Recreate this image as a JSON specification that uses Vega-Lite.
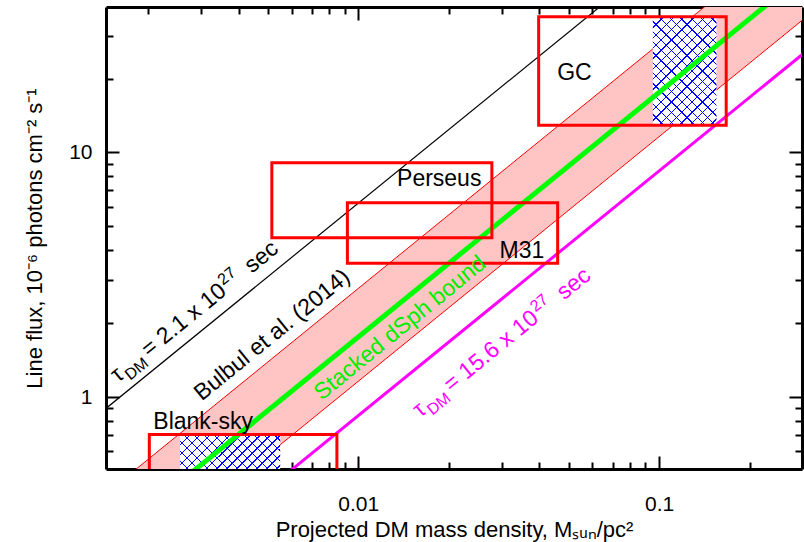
{
 "$schema": "https://vega.github.io/schema/vega-lite/v6.json",
 "width": 696, "height": 462,
 "autosize": {"type": "none"},
 "padding": {"left": 106, "top": 7, "right": 2, "bottom": 73},
 "background": "white",
 "config": {
  "view": {"stroke": null},
  "font": "Liberation Sans",
  "axis": {"grid": false, "domainColor": "black", "domainWidth": 3, "tickColor": "black", "tickWidth": 2, "zindex": 1,
   "labelFont": "Liberation Sans", "labelFontSize": 21, "labelColor": "black", "labelOverlap": false, "labelFlush": false,
   "titleFont": "Liberation Sans", "titleFontSize": 22, "titleFontWeight": "normal", "titleColor": "black"}
 },
 "datasets": {
  "band": [{"x": 0.0014, "lo": 0.1624, "hi": 0.3892}, {"x": 0.3, "lo": 34.8, "hi": 83.4}],
  "lines": [
   {"s": "dSph", "x": 0.0025, "y": 0.44}, {"s": "dSph", "x": 0.25, "y": 44},
   {"s": "tau21", "x": 0.0014, "y": 0.868}, {"s": "tau21", "x": 0.07, "y": 43.4},
   {"s": "tau156", "x": 0.005, "y": 0.42}, {"s": "tau156", "x": 0.5, "y": 42}
  ],
  "boxes": [
   {"name": "Blank-sky", "x1": 0.00202, "x2": 0.00849, "y1": 0.45, "y2": 0.7036},
   {"name": "Perseus", "x1": 0.00516, "x2": 0.0278, "y1": 4.48, "y2": 9.07},
   {"name": "M31", "x1": 0.0092, "x2": 0.046, "y1": 3.52, "y2": 6.23},
   {"name": "GC", "x1": 0.03977, "x2": 0.1671, "y1": 12.91, "y2": 35.86}
  ],
  "hatch": [
   {"name": "Blank-sky", "x1": 0.002556, "x2": 0.0055, "y1": 0.45, "y2": 0.7036},
   {"name": "GC", "x1": 0.0953, "x2": 0.1551, "y1": 12.91, "y2": 35.86}
  ],
  "labels": [
   {"t": "Blank-sky", "x": 0.00305, "y": 0.794},
   {"t": "Perseus", "x": 0.01858, "y": 7.785},
   {"t": "M31", "x": 0.035, "y": 3.97},
   {"t": "GC", "x": 0.05229, "y": 21.05}
  ],
  "tau": [
   {"s": "black", "x": 0.001589, "y": 1.141, "num": "= 2.1 x 10"},
   {"s": "magenta", "x": 0.01606, "y": 0.8204, "num": "= 15.6 x 10"}
  ]
 },
 "resolve": {"axis": {"x": "independent", "y": "independent"}},
 "layer": [
  {"data": {"name": "band"}, "mark": {"type": "area", "color": "#ffc4c4", "clip": true},
   "encoding": {
    "x": {"field": "x", "type": "quantitative", "scale": {"type": "log", "domain": [0.00145, 0.2985], "nice": false},
     "axis": {"orient": "bottom", "values": [0.01, 0.1], "labelExpr": "datum.value == 0.01 ? '0.01' : '0.1'", "domain": false, "offset": -13,
      "tickSize": 13, "labelPadding": 24, "title": "Projected DM mass density, Mₛᵤₙ/pc²", "titlePadding": 5}},
    "y": {"field": "lo", "type": "quantitative", "scale": {"type": "log", "domain": [0.508, 39.3], "nice": false},
     "axis": {"orient": "left", "values": [1, 10], "labelExpr": "datum.value == 1 ? '1' : '10'", "domain": false, "offset": -13,
      "tickSize": 13, "labelPadding": 14, "title": "Line flux, 10⁻⁶ photons cm⁻² s⁻¹", "titlePadding": 22}},
    "y2": {"field": "hi"}
   }},
  {"data": {"name": "band"}, "mark": {"type": "line", "color": "#ff0000", "strokeWidth": 1, "clip": true},
   "encoding": {
    "x": {"field": "x", "type": "quantitative",
     "axis": {"orient": "bottom", "values": [0.002,0.003,0.004,0.005,0.006,0.007,0.008,0.009,0.02,0.03,0.04,0.05,0.06,0.07,0.08,0.09,0.2],
      "labels": false, "title": null, "domain": false, "offset": -7, "tickSize": 7}},
    "y": {"field": "hi", "type": "quantitative",
     "axis": {"orient": "left", "values": [0.6,0.7,0.8,0.9,2,3,4,5,6,7,8,9,20,30],
      "labels": false, "title": null, "domain": false, "offset": -7, "tickSize": 7}}
   }},
  {"data": {"name": "band"}, "mark": {"type": "line", "color": "#ff0000", "strokeWidth": 1, "clip": true},
   "encoding": {
    "x": {"field": "x", "type": "quantitative",
     "axis": {"orient": "top", "values": [0.01, 0.1], "labels": false, "title": null, "domain": false, "offset": -13, "tickSize": 13}},
    "y": {"field": "lo", "type": "quantitative",
     "axis": {"orient": "right", "values": [1, 10], "labels": false, "title": null, "domain": false, "offset": -13, "tickSize": 13}}
   }},
  {"data": {"name": "hatch"}, "mark": {"type": "rect", "fill": "white", "clip": true},
   "encoding": {
    "x": {"field": "x1", "type": "quantitative",
     "axis": {"orient": "top", "values": [0.002,0.003,0.004,0.005,0.006,0.007,0.008,0.009,0.02,0.03,0.04,0.05,0.06,0.07,0.08,0.09,0.2],
      "labels": false, "title": null, "domain": false, "offset": -7, "tickSize": 7}},
    "x2": {"field": "x2"},
    "y": {"field": "y1", "type": "quantitative",
     "axis": {"orient": "right", "values": [0.6,0.7,0.8,0.9,2,3,4,5,6,7,8,9,20,30],
      "labels": false, "title": null, "domain": false, "offset": -7, "tickSize": 7}},
    "y2": {"field": "y2"}}},
  {"data": {"name": "hatch"}, "transform": [{"filter": "datum.name == 'GC'"}],
   "mark": {"type": "rect", "clip": true, "fill": {"gradient": "linear", "x1": 0, "y1": 0, "x2": 0.6915, "y2": 1.1807, "stops": [
    {"offset":0,"color":"#0000ff"},{"offset":0.008,"color":"#0000ff"},{"offset":0.008,"color":"rgba(0,0,255,0)"},{"offset":0.06,"color":"rgba(0,0,255,0)"},
    {"offset":0.06,"color":"#0000ff"},{"offset":0.068,"color":"#0000ff"},{"offset":0.068,"color":"rgba(0,0,255,0)"},{"offset":0.12,"color":"rgba(0,0,255,0)"},
    {"offset":0.12,"color":"#0000ff"},{"offset":0.128,"color":"#0000ff"},{"offset":0.128,"color":"rgba(0,0,255,0)"},{"offset":0.18,"color":"rgba(0,0,255,0)"},
    {"offset":0.18,"color":"#0000ff"},{"offset":0.188,"color":"#0000ff"},{"offset":0.188,"color":"rgba(0,0,255,0)"},{"offset":0.24,"color":"rgba(0,0,255,0)"},
    {"offset":0.24,"color":"#0000ff"},{"offset":0.248,"color":"#0000ff"},{"offset":0.248,"color":"rgba(0,0,255,0)"},{"offset":0.3,"color":"rgba(0,0,255,0)"},
    {"offset":0.3,"color":"#0000ff"},{"offset":0.308,"color":"#0000ff"},{"offset":0.308,"color":"rgba(0,0,255,0)"},{"offset":0.36,"color":"rgba(0,0,255,0)"},
    {"offset":0.36,"color":"#0000ff"},{"offset":0.368,"color":"#0000ff"},{"offset":0.368,"color":"rgba(0,0,255,0)"},{"offset":0.42,"color":"rgba(0,0,255,0)"},
    {"offset":0.42,"color":"#0000ff"},{"offset":0.428,"color":"#0000ff"},{"offset":0.428,"color":"rgba(0,0,255,0)"},{"offset":0.48,"color":"rgba(0,0,255,0)"},
    {"offset":0.48,"color":"#0000ff"},{"offset":0.488,"color":"#0000ff"},{"offset":0.488,"color":"rgba(0,0,255,0)"},{"offset":0.54,"color":"rgba(0,0,255,0)"},
    {"offset":0.54,"color":"#0000ff"},{"offset":0.548,"color":"#0000ff"},{"offset":0.548,"color":"rgba(0,0,255,0)"},{"offset":0.6,"color":"rgba(0,0,255,0)"},
    {"offset":0.6,"color":"#0000ff"},{"offset":0.608,"color":"#0000ff"},{"offset":0.608,"color":"rgba(0,0,255,0)"},{"offset":0.66,"color":"rgba(0,0,255,0)"},
    {"offset":0.66,"color":"#0000ff"},{"offset":0.668,"color":"#0000ff"},{"offset":0.668,"color":"rgba(0,0,255,0)"},{"offset":0.72,"color":"rgba(0,0,255,0)"},
    {"offset":0.72,"color":"#0000ff"},{"offset":0.728,"color":"#0000ff"},{"offset":0.728,"color":"rgba(0,0,255,0)"},{"offset":0.78,"color":"rgba(0,0,255,0)"},
    {"offset":0.78,"color":"#0000ff"},{"offset":0.788,"color":"#0000ff"},{"offset":0.788,"color":"rgba(0,0,255,0)"},{"offset":0.84,"color":"rgba(0,0,255,0)"},
    {"offset":0.84,"color":"#0000ff"},{"offset":0.848,"color":"#0000ff"},{"offset":0.848,"color":"rgba(0,0,255,0)"},{"offset":0.9,"color":"rgba(0,0,255,0)"},
    {"offset":0.9,"color":"#0000ff"},{"offset":0.908,"color":"#0000ff"},{"offset":0.908,"color":"rgba(0,0,255,0)"},{"offset":0.96,"color":"rgba(0,0,255,0)"},
    {"offset":0.96,"color":"#0000ff"},{"offset":0.968,"color":"#0000ff"},{"offset":0.968,"color":"rgba(0,0,255,0)"},{"offset":1,"color":"rgba(0,0,255,0)"}]}},
   "encoding": {
    "x": {"field": "x1", "type": "quantitative", "axis": {"orient": "bottom", "ticks": false, "labels": false, "title": null, "domain": true}},
    "x2": {"field": "x2"},
    "y": {"field": "y1", "type": "quantitative", "axis": {"orient": "left", "ticks": false, "labels": false, "title": null, "domain": true}},
    "y2": {"field": "y2"}}},
  {"data": {"name": "hatch"}, "transform": [{"filter": "datum.name == 'GC'"}],
   "mark": {"type": "rect", "clip": true, "fill": {"gradient": "linear", "x1": 0, "y1": 1, "x2": 0.6915, "y2": -0.1807, "stops": [
    {"offset":0,"color":"#0000ff"},{"offset":0.008,"color":"#0000ff"},{"offset":0.008,"color":"rgba(0,0,255,0)"},{"offset":0.06,"color":"rgba(0,0,255,0)"},
    {"offset":0.06,"color":"#0000ff"},{"offset":0.068,"color":"#0000ff"},{"offset":0.068,"color":"rgba(0,0,255,0)"},{"offset":0.12,"color":"rgba(0,0,255,0)"},
    {"offset":0.12,"color":"#0000ff"},{"offset":0.128,"color":"#0000ff"},{"offset":0.128,"color":"rgba(0,0,255,0)"},{"offset":0.18,"color":"rgba(0,0,255,0)"},
    {"offset":0.18,"color":"#0000ff"},{"offset":0.188,"color":"#0000ff"},{"offset":0.188,"color":"rgba(0,0,255,0)"},{"offset":0.24,"color":"rgba(0,0,255,0)"},
    {"offset":0.24,"color":"#0000ff"},{"offset":0.248,"color":"#0000ff"},{"offset":0.248,"color":"rgba(0,0,255,0)"},{"offset":0.3,"color":"rgba(0,0,255,0)"},
    {"offset":0.3,"color":"#0000ff"},{"offset":0.308,"color":"#0000ff"},{"offset":0.308,"color":"rgba(0,0,255,0)"},{"offset":0.36,"color":"rgba(0,0,255,0)"},
    {"offset":0.36,"color":"#0000ff"},{"offset":0.368,"color":"#0000ff"},{"offset":0.368,"color":"rgba(0,0,255,0)"},{"offset":0.42,"color":"rgba(0,0,255,0)"},
    {"offset":0.42,"color":"#0000ff"},{"offset":0.428,"color":"#0000ff"},{"offset":0.428,"color":"rgba(0,0,255,0)"},{"offset":0.48,"color":"rgba(0,0,255,0)"},
    {"offset":0.48,"color":"#0000ff"},{"offset":0.488,"color":"#0000ff"},{"offset":0.488,"color":"rgba(0,0,255,0)"},{"offset":0.54,"color":"rgba(0,0,255,0)"},
    {"offset":0.54,"color":"#0000ff"},{"offset":0.548,"color":"#0000ff"},{"offset":0.548,"color":"rgba(0,0,255,0)"},{"offset":0.6,"color":"rgba(0,0,255,0)"},
    {"offset":0.6,"color":"#0000ff"},{"offset":0.608,"color":"#0000ff"},{"offset":0.608,"color":"rgba(0,0,255,0)"},{"offset":0.66,"color":"rgba(0,0,255,0)"},
    {"offset":0.66,"color":"#0000ff"},{"offset":0.668,"color":"#0000ff"},{"offset":0.668,"color":"rgba(0,0,255,0)"},{"offset":0.72,"color":"rgba(0,0,255,0)"},
    {"offset":0.72,"color":"#0000ff"},{"offset":0.728,"color":"#0000ff"},{"offset":0.728,"color":"rgba(0,0,255,0)"},{"offset":0.78,"color":"rgba(0,0,255,0)"},
    {"offset":0.78,"color":"#0000ff"},{"offset":0.788,"color":"#0000ff"},{"offset":0.788,"color":"rgba(0,0,255,0)"},{"offset":0.84,"color":"rgba(0,0,255,0)"},
    {"offset":0.84,"color":"#0000ff"},{"offset":0.848,"color":"#0000ff"},{"offset":0.848,"color":"rgba(0,0,255,0)"},{"offset":0.9,"color":"rgba(0,0,255,0)"},
    {"offset":0.9,"color":"#0000ff"},{"offset":0.908,"color":"#0000ff"},{"offset":0.908,"color":"rgba(0,0,255,0)"},{"offset":0.96,"color":"rgba(0,0,255,0)"},
    {"offset":0.96,"color":"#0000ff"},{"offset":0.968,"color":"#0000ff"},{"offset":0.968,"color":"rgba(0,0,255,0)"},{"offset":1,"color":"rgba(0,0,255,0)"}]}},
   "encoding": {
    "x": {"field": "x1", "type": "quantitative", "axis": {"orient": "top", "ticks": false, "labels": false, "title": null, "domain": true}},
    "x2": {"field": "x2"},
    "y": {"field": "y1", "type": "quantitative", "axis": {"orient": "right", "ticks": false, "labels": false, "title": null, "domain": true}},
    "y2": {"field": "y2"}}},
  {"data": {"name": "hatch"}, "transform": [{"filter": "datum.name == 'Blank-sky'"}],
   "mark": {"type": "rect", "clip": true, "fill": {"gradient": "linear", "x1": 0, "y1": 0, "x2": 1.2034, "y2": 0.5716, "stops": [
    {"offset":0,"color":"#0000ff"},{"offset":0.009,"color":"#0000ff"},{"offset":0.009,"color":"rgba(0,0,255,0)"},{"offset":0.068,"color":"rgba(0,0,255,0)"},
    {"offset":0.068,"color":"#0000ff"},{"offset":0.077,"color":"#0000ff"},{"offset":0.077,"color":"rgba(0,0,255,0)"},{"offset":0.136,"color":"rgba(0,0,255,0)"},
    {"offset":0.136,"color":"#0000ff"},{"offset":0.145,"color":"#0000ff"},{"offset":0.145,"color":"rgba(0,0,255,0)"},{"offset":0.204,"color":"rgba(0,0,255,0)"},
    {"offset":0.204,"color":"#0000ff"},{"offset":0.213,"color":"#0000ff"},{"offset":0.213,"color":"rgba(0,0,255,0)"},{"offset":0.272,"color":"rgba(0,0,255,0)"},
    {"offset":0.272,"color":"#0000ff"},{"offset":0.281,"color":"#0000ff"},{"offset":0.281,"color":"rgba(0,0,255,0)"},{"offset":0.34,"color":"rgba(0,0,255,0)"},
    {"offset":0.34,"color":"#0000ff"},{"offset":0.349,"color":"#0000ff"},{"offset":0.349,"color":"rgba(0,0,255,0)"},{"offset":0.408,"color":"rgba(0,0,255,0)"},
    {"offset":0.408,"color":"#0000ff"},{"offset":0.417,"color":"#0000ff"},{"offset":0.417,"color":"rgba(0,0,255,0)"},{"offset":0.476,"color":"rgba(0,0,255,0)"},
    {"offset":0.476,"color":"#0000ff"},{"offset":0.485,"color":"#0000ff"},{"offset":0.485,"color":"rgba(0,0,255,0)"},{"offset":0.544,"color":"rgba(0,0,255,0)"},
    {"offset":0.544,"color":"#0000ff"},{"offset":0.553,"color":"#0000ff"},{"offset":0.553,"color":"rgba(0,0,255,0)"},{"offset":0.612,"color":"rgba(0,0,255,0)"},
    {"offset":0.612,"color":"#0000ff"},{"offset":0.621,"color":"#0000ff"},{"offset":0.621,"color":"rgba(0,0,255,0)"},{"offset":0.68,"color":"rgba(0,0,255,0)"},
    {"offset":0.68,"color":"#0000ff"},{"offset":0.689,"color":"#0000ff"},{"offset":0.689,"color":"rgba(0,0,255,0)"},{"offset":0.748,"color":"rgba(0,0,255,0)"},
    {"offset":0.748,"color":"#0000ff"},{"offset":0.757,"color":"#0000ff"},{"offset":0.757,"color":"rgba(0,0,255,0)"},{"offset":0.816,"color":"rgba(0,0,255,0)"},
    {"offset":0.816,"color":"#0000ff"},{"offset":0.825,"color":"#0000ff"},{"offset":0.825,"color":"rgba(0,0,255,0)"},{"offset":0.884,"color":"rgba(0,0,255,0)"},
    {"offset":0.884,"color":"#0000ff"},{"offset":0.893,"color":"#0000ff"},{"offset":0.893,"color":"rgba(0,0,255,0)"},{"offset":0.952,"color":"rgba(0,0,255,0)"},
    {"offset":0.952,"color":"#0000ff"},{"offset":0.961,"color":"#0000ff"},{"offset":0.961,"color":"rgba(0,0,255,0)"},{"offset":1,"color":"rgba(0,0,255,0)"}]}},
   "encoding": {"x": {"field": "x1", "type": "quantitative", "axis": null}, "x2": {"field": "x2"}, "y": {"field": "y1", "type": "quantitative", "axis": null}, "y2": {"field": "y2"}}},
  {"data": {"name": "hatch"}, "transform": [{"filter": "datum.name == 'Blank-sky'"}],
   "mark": {"type": "rect", "clip": true, "fill": {"gradient": "linear", "x1": 0, "y1": 1, "x2": 1.2034, "y2": 0.4284, "stops": [
    {"offset":0,"color":"#0000ff"},{"offset":0.009,"color":"#0000ff"},{"offset":0.009,"color":"rgba(0,0,255,0)"},{"offset":0.068,"color":"rgba(0,0,255,0)"},
    {"offset":0.068,"color":"#0000ff"},{"offset":0.077,"color":"#0000ff"},{"offset":0.077,"color":"rgba(0,0,255,0)"},{"offset":0.136,"color":"rgba(0,0,255,0)"},
    {"offset":0.136,"color":"#0000ff"},{"offset":0.145,"color":"#0000ff"},{"offset":0.145,"color":"rgba(0,0,255,0)"},{"offset":0.204,"color":"rgba(0,0,255,0)"},
    {"offset":0.204,"color":"#0000ff"},{"offset":0.213,"color":"#0000ff"},{"offset":0.213,"color":"rgba(0,0,255,0)"},{"offset":0.272,"color":"rgba(0,0,255,0)"},
    {"offset":0.272,"color":"#0000ff"},{"offset":0.281,"color":"#0000ff"},{"offset":0.281,"color":"rgba(0,0,255,0)"},{"offset":0.34,"color":"rgba(0,0,255,0)"},
    {"offset":0.34,"color":"#0000ff"},{"offset":0.349,"color":"#0000ff"},{"offset":0.349,"color":"rgba(0,0,255,0)"},{"offset":0.408,"color":"rgba(0,0,255,0)"},
    {"offset":0.408,"color":"#0000ff"},{"offset":0.417,"color":"#0000ff"},{"offset":0.417,"color":"rgba(0,0,255,0)"},{"offset":0.476,"color":"rgba(0,0,255,0)"},
    {"offset":0.476,"color":"#0000ff"},{"offset":0.485,"color":"#0000ff"},{"offset":0.485,"color":"rgba(0,0,255,0)"},{"offset":0.544,"color":"rgba(0,0,255,0)"},
    {"offset":0.544,"color":"#0000ff"},{"offset":0.553,"color":"#0000ff"},{"offset":0.553,"color":"rgba(0,0,255,0)"},{"offset":0.612,"color":"rgba(0,0,255,0)"},
    {"offset":0.612,"color":"#0000ff"},{"offset":0.621,"color":"#0000ff"},{"offset":0.621,"color":"rgba(0,0,255,0)"},{"offset":0.68,"color":"rgba(0,0,255,0)"},
    {"offset":0.68,"color":"#0000ff"},{"offset":0.689,"color":"#0000ff"},{"offset":0.689,"color":"rgba(0,0,255,0)"},{"offset":0.748,"color":"rgba(0,0,255,0)"},
    {"offset":0.748,"color":"#0000ff"},{"offset":0.757,"color":"#0000ff"},{"offset":0.757,"color":"rgba(0,0,255,0)"},{"offset":0.816,"color":"rgba(0,0,255,0)"},
    {"offset":0.816,"color":"#0000ff"},{"offset":0.825,"color":"#0000ff"},{"offset":0.825,"color":"rgba(0,0,255,0)"},{"offset":0.884,"color":"rgba(0,0,255,0)"},
    {"offset":0.884,"color":"#0000ff"},{"offset":0.893,"color":"#0000ff"},{"offset":0.893,"color":"rgba(0,0,255,0)"},{"offset":0.952,"color":"rgba(0,0,255,0)"},
    {"offset":0.952,"color":"#0000ff"},{"offset":0.961,"color":"#0000ff"},{"offset":0.961,"color":"rgba(0,0,255,0)"},{"offset":1,"color":"rgba(0,0,255,0)"}]}},
   "encoding": {"x": {"field": "x1", "type": "quantitative", "axis": null}, "x2": {"field": "x2"}, "y": {"field": "y1", "type": "quantitative", "axis": null}, "y2": {"field": "y2"}}},
  {"data": {"name": "lines"}, "transform": [{"filter": "datum.s == 'dSph'"}], "mark": {"type": "line", "color": "#00ff00", "strokeWidth": 5, "clip": true},
   "encoding": {"x": {"field": "x", "type": "quantitative", "axis": null}, "y": {"field": "y", "type": "quantitative", "axis": null}}},
  {"data": {"name": "lines"}, "transform": [{"filter": "datum.s == 'tau21'"}], "mark": {"type": "line", "color": "#000000", "strokeWidth": 1.2, "clip": true},
   "encoding": {"x": {"field": "x", "type": "quantitative", "axis": null}, "y": {"field": "y", "type": "quantitative", "axis": null}}},
  {"data": {"name": "lines"}, "transform": [{"filter": "datum.s == 'tau156'"}], "mark": {"type": "line", "color": "#ff00ff", "strokeWidth": 3, "clip": true},
   "encoding": {"x": {"field": "x", "type": "quantitative", "axis": null}, "y": {"field": "y", "type": "quantitative", "axis": null}}},
  {"data": {"name": "boxes"}, "mark": {"type": "rect", "filled": false, "color": "#ff0000", "strokeWidth": 3, "clip": true},
   "encoding": {"x": {"field": "x1", "type": "quantitative", "axis": null}, "x2": {"field": "x2"}, "y": {"field": "y1", "type": "quantitative", "axis": null}, "y2": {"field": "y2"}}},
  {"data": {"name": "labels"}, "mark": {"type": "text", "fontSize": 23, "color": "black", "align": "center", "baseline": "middle"},
   "encoding": {"x": {"field": "x", "type": "quantitative", "axis": null}, "y": {"field": "y", "type": "quantitative", "axis": null}, "text": {"field": "t"}}},
  {"data": {"values": [{"t": "Bulbul et al. (2014)", "x": 0.005171, "y": 1.792}]}, "mark": {"type": "text", "fontSize": 23, "color": "black", "align": "center", "baseline": "middle", "angle": 320.8},
   "encoding": {"x": {"field": "x", "type": "quantitative", "axis": null}, "y": {"field": "y", "type": "quantitative", "axis": null}, "text": {"field": "t"}}},
  {"data": {"values": [{"t": "Stacked dSph bound", "x": 0.01378, "y": 1.915}]}, "mark": {"type": "text", "fontSize": 23, "color": "#00ee00", "align": "center", "baseline": "middle", "angle": 320.8},
   "encoding": {"x": {"field": "x", "type": "quantitative", "axis": null}, "y": {"field": "y", "type": "quantitative", "axis": null}, "text": {"field": "t"}}},
  {"data": {"name": "tau"}, "mark": {"type": "text", "fontSize": 23, "align": "left", "baseline": "alphabetic", "angle": 320.8},
   "encoding": {"x": {"field": "x", "type": "quantitative", "axis": null}, "y": {"field": "y", "type": "quantitative", "axis": null}, "text": {"value": "τ"},
    "color": {"field": "s", "type": "nominal", "scale": {"domain": ["black", "magenta"], "range": ["#000000", "#ff00ff"]}, "legend": null}}},
  {"data": {"name": "tau"}, "mark": {"type": "text", "fontSize": 16, "align": "left", "baseline": "alphabetic", "angle": 320.8, "dx": 11, "dy": 6},
   "encoding": {"x": {"field": "x", "type": "quantitative", "axis": null}, "y": {"field": "y", "type": "quantitative", "axis": null}, "text": {"value": "DM"},
    "color": {"field": "s", "type": "nominal", "legend": null}}},
  {"data": {"name": "tau"}, "mark": {"type": "text", "fontSize": 23, "align": "left", "baseline": "alphabetic", "angle": 320.8, "dx": 40},
   "encoding": {"x": {"field": "x", "type": "quantitative", "axis": null}, "y": {"field": "y", "type": "quantitative", "axis": null}, "text": {"field": "num"},
    "color": {"field": "s", "type": "nominal", "legend": null}}},
  {"data": {"name": "tau"}, "transform": [{"filter": "datum.s == 'black'"}], "mark": {"type": "text", "fontSize": 16, "align": "left", "baseline": "alphabetic", "angle": 320.8, "dx": 143, "dy": -9, "color": "#000000"},
   "encoding": {"x": {"field": "x", "type": "quantitative", "axis": null}, "y": {"field": "y", "type": "quantitative", "axis": null}, "text": {"value": "27"}}},
  {"data": {"name": "tau"}, "transform": [{"filter": "datum.s == 'black'"}], "mark": {"type": "text", "fontSize": 23, "align": "left", "baseline": "alphabetic", "angle": 320.8, "dx": 173, "color": "#000000"},
   "encoding": {"x": {"field": "x", "type": "quantitative", "axis": null}, "y": {"field": "y", "type": "quantitative", "axis": null}, "text": {"value": "sec"}}},
  {"data": {"name": "tau"}, "transform": [{"filter": "datum.s == 'magenta'"}], "mark": {"type": "text", "fontSize": 16, "align": "left", "baseline": "alphabetic", "angle": 320.8, "dx": 156, "dy": -9, "color": "#ff00ff"},
   "encoding": {"x": {"field": "x", "type": "quantitative", "axis": null}, "y": {"field": "y", "type": "quantitative", "axis": null}, "text": {"value": "27"}}},
  {"data": {"name": "tau"}, "transform": [{"filter": "datum.s == 'magenta'"}], "mark": {"type": "text", "fontSize": 23, "align": "left", "baseline": "alphabetic", "angle": 320.8, "dx": 186, "color": "#ff00ff"},
   "encoding": {"x": {"field": "x", "type": "quantitative", "axis": null}, "y": {"field": "y", "type": "quantitative", "axis": null}, "text": {"value": "sec"}}}
 ]
}
